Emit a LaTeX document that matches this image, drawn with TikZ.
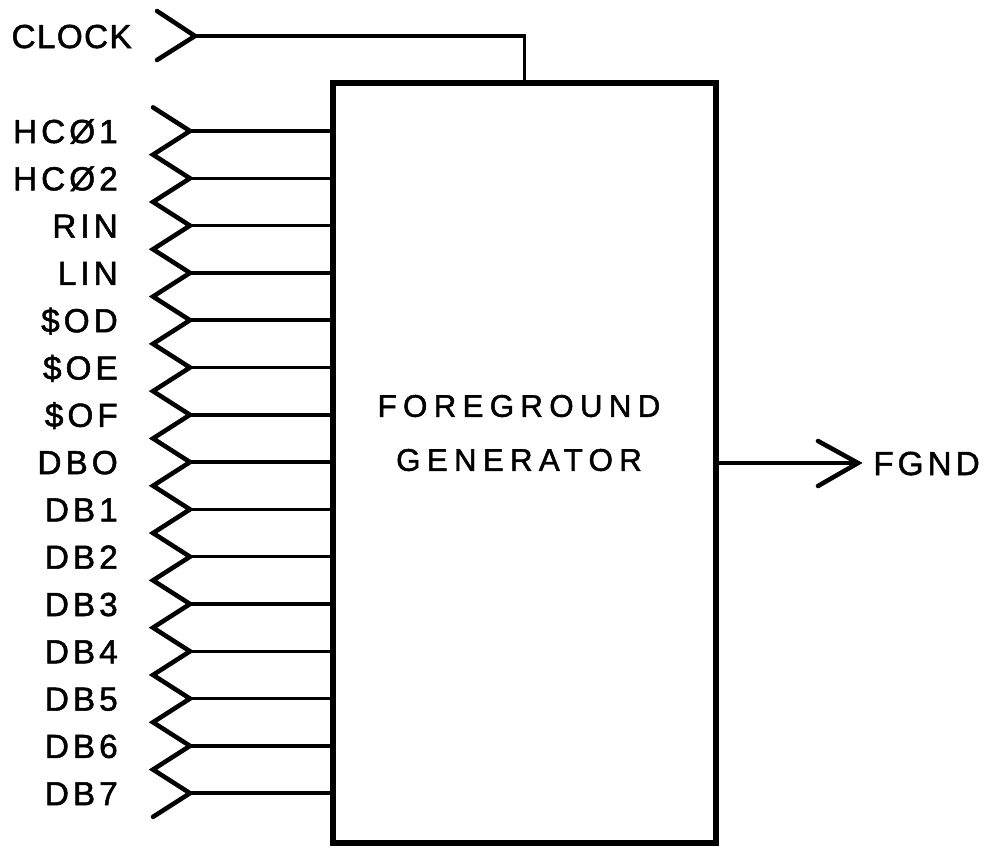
\documentclass[tikz,border=0pt]{standalone}
\usepackage{fontspec}
\newfontfamily\lblfont{Liberation Sans}[LetterSpace=12,FakeBold=1.5]
\newfontfamily\clkfont{Liberation Sans}[LetterSpace=4,FakeBold=1.5]
\newfontfamily\ttlfont{Liberation Sans}[LetterSpace=20,FakeBold=1.5]
\begin{document}
\begin{tikzpicture}[x=0.75pt,y=-0.75pt,
  lbl/.style={font={\lblfont\fontsize{25}{28}\selectfont}, inner sep=0pt},
  ttl/.style={font={\ttlfont\fontsize{23.5}{40.5}\selectfont}, inner sep=0pt, align=center},
  wire/.style={line width=2.6pt},
  chev/.style={line width=3.4pt, line join=miter, line cap=round},
  blk/.style={draw, line width=4pt, inner sep=0pt, minimum width=287.25pt, minimum height=570pt}]
\useasboundingbox (0,0) rectangle (984,847);
% main block
\node[blk] (fg) at (524.5,463) {};
\node[ttl] (title) at (519,433) {FOREGROUND\\GENERATOR};
% clock input
\coordinate (ck) at (195,36);
\draw[chev] (157,11) -- (ck) -- (157,60);
\draw[wire] (ck) -- (ck -| fg.north) -- (fg.north);
\node[lbl, font={\clkfont\fontsize{25}{28}\selectfont}, anchor=base east] (clk) at (132,48) {CLOCK};
% data inputs
\foreach \name [count=\i from 0] in {HCØ1,HCØ2,RIN,LIN,\$OD,\$OE,\$OF,DBO,DB1,DB2,DB3,DB4,DB5,DB6,DB7} {
  \pgfmathsetmacro\yy{131+47.3*\i}
  \coordinate (in\i) at (190,\yy);
  \node[lbl, anchor=base east] (l\i) at (118,\yy+12) {\name};
  \draw[wire] (in\i) -- (in\i -| fg.west);
}
\draw[chev] (153,107.35) \foreach \i in {0,...,14} { -- (in\i) -- ++(-37,23.65) };
% output
\coordinate (fo) at (858,463);
\draw[wire] (fg.east) -- (fo);
\draw[chev] (818,441) -- (fo) -- (818,486);
\node[lbl, anchor=base west] (fgnd) at (873,475) {FGND};
\end{tikzpicture}
\end{document}
